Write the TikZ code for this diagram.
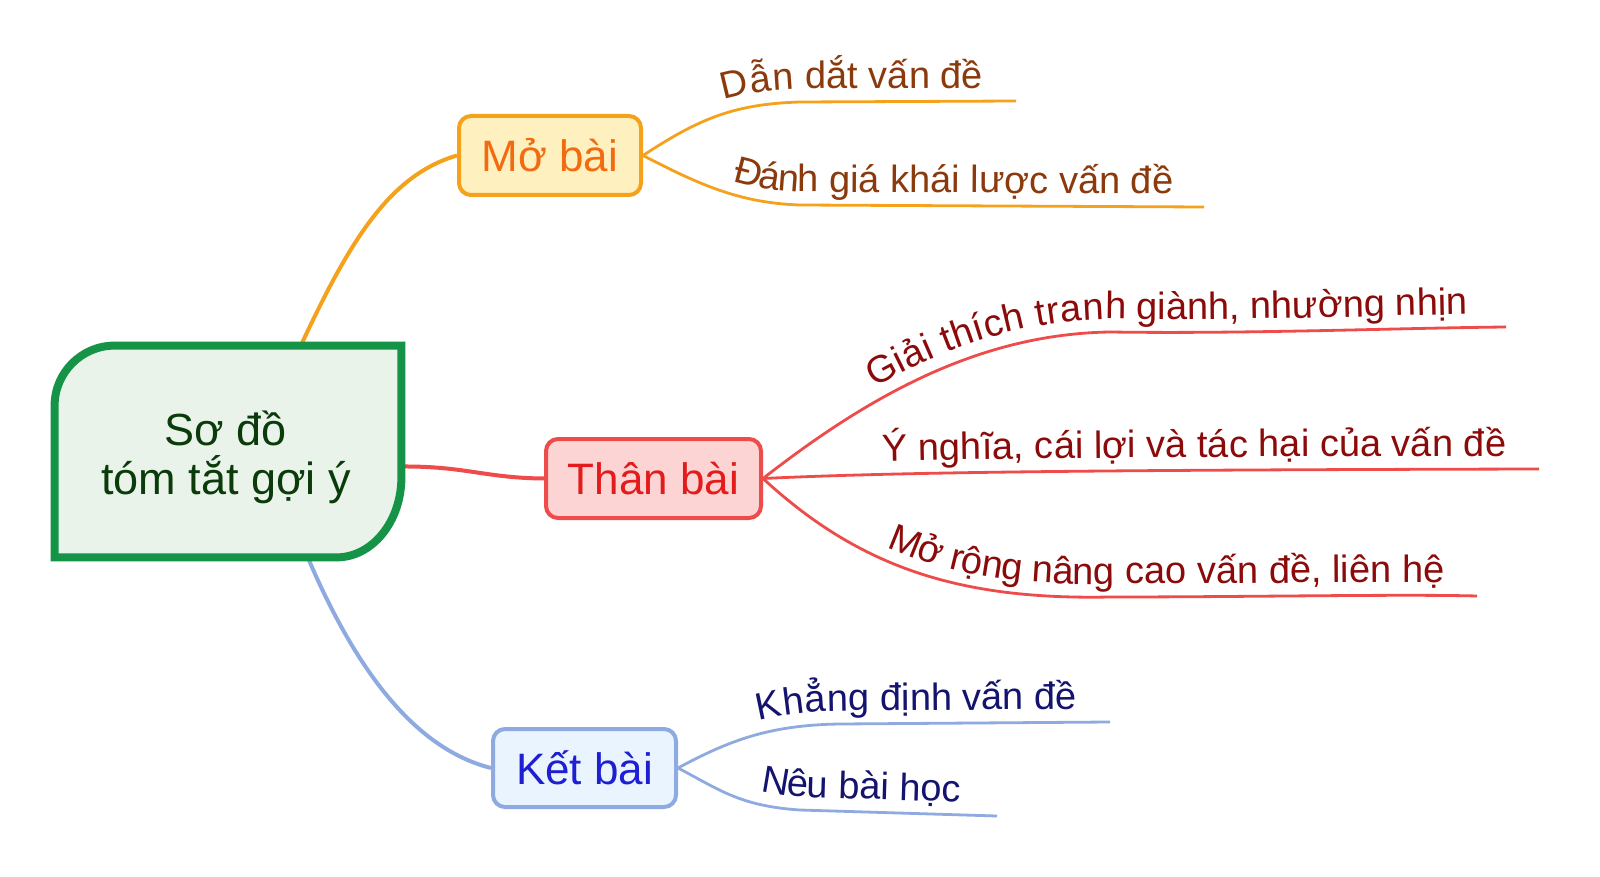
\documentclass[tikz,border=0pt]{standalone}
\usepackage{fontspec}
\setmainfont{Liberation Sans}
\usetikzlibrary{calc,decorations.text}
\pgfdeclarelayer{bg}
\pgfsetlayers{bg,main}
\definecolor{cgreen}{HTML}{159447}
\definecolor{cgreenfill}{HTML}{E9F3EA}
\definecolor{cgreentext}{HTML}{0B3B0B}
\definecolor{oline}{HTML}{F5A11C}
\definecolor{ofill}{HTML}{FFF1BF}
\definecolor{otext}{HTML}{F26B10}
\definecolor{osub}{HTML}{8A3A0C}
\definecolor{rline}{HTML}{EE4B4B}
\definecolor{rfill}{HTML}{FCD4D4}
\definecolor{rtext}{HTML}{E31B1B}
\definecolor{rsub}{HTML}{8B0A0A}
\definecolor{bline}{HTML}{8EAAE0}
\definecolor{bfill}{HTML}{EAF4FF}
\definecolor{btext}{HTML}{1E1ED2}
\definecolor{bsub}{HTML}{14146E}
\begin{document}
\begin{tikzpicture}[x=0.5pt,y=-0.5pt,
  topicbox/.style={rounded corners=6pt, line width=2pt, minimum height=39.5pt, inner sep=0pt, font=\fontsize{22}{26}\selectfont},
  mainlink/.style={line width=2pt},
  sublink/.style={line width=1.4pt},
  subtext/.style n args={3}{postaction={decorate, decoration={text along path, raise=6.5pt, text align={left indent=#1}, text={|\fontsize{19}{23}\selectfont\color{#2}|#3}}}}
]
\useasboundingbox (0,0) rectangle (1600,877);

% central topic
\node[draw=none, minimum width=173pt, minimum height=105.5pt, inner sep=0pt] (c) at (228,451.5) {};
\begin{pgfonlayer}{bg}
\fill[white] (0,0) rectangle (1600,877);
\end{pgfonlayer}
\filldraw[draw=cgreen, fill=cgreenfill, line width=4pt, line join=miter]
  (c.south west) -- ($(c.north west)+(0,60)$)
  .. controls ($(c.north west)+(0,27)$) and ($(c.north west)+(27,0)$) .. ($(c.north west)+(60,0)$)
  -- (c.north east) -- ($(c.south east)+(0,-80)$)
  .. controls ($(c.south east)+(0,-36)$) and ($(c.south east)+(-29,0)$) .. ($(c.south east)+(-65,0)$)
  -- cycle;
\node[align=center, text=cgreentext, font=\fontsize{22.5}{24.5}\selectfont] (ct) at ($(c)+(-2,6)$) {Sơ đồ\\tóm tắt gợi ý};

% main topics
\node[topicbox, draw=oline, fill=ofill, text=otext, minimum width=91pt] (mo) at (550,155.5) {Mở bài};
\node[topicbox, draw=rline, fill=rfill, text=rtext, minimum width=107.5pt] (th) at (653.5,478.5) {Thân bài};
\node[topicbox, draw=bline, fill=bfill, text=btext, minimum width=91.5pt, minimum height=39pt] (ke) at (584.5,768) {Kết bài};

% branch ends
\coordinate (e1) at (1016,101);
\coordinate (e2) at (1204,207);
\coordinate (e3) at (1506,327);
\coordinate (e4) at (1539,469);
\coordinate (e5) at (1477,596);
\coordinate (e6) at (1110,722);
\coordinate (e7) at (997,816);

\begin{pgfonlayer}{bg}
\draw[mainlink, oline] ($(c.north west)!0.71!(c.north east)$) .. controls (350,240) and (390,175) .. (mo.west);
\draw[mainlink, rline] ($(c.east)+(0,15)$) .. controls (465,466) and (485,478) .. (th.west);
\draw[mainlink, bline] ($(c.south west)!0.73!(c.south east)$) .. controls (360,680) and (420,750) .. (ke.west);

\draw[sublink, oline, subtext={47pt}{osub}{Dẫn dắt vấn đề}] (mo.east) .. controls (700,118) and (735,104) .. (800,102) -- (e1);
\draw[sublink, oline, subtext={47pt}{osub}{Đánh giá khái lược vấn đề}] (mo.east) .. controls (700,185) and (740,203) .. (800,205) -- (e2);

\draw[sublink, rline, subtext={71pt}{rsub}{Giải thích tranh giành, nhường nhịn}] (th.east) .. controls (870,395) and (980,334) .. (1110,332) .. controls (1250,334) and (1400,328) .. (e3);
\draw[sublink, rline, subtext={60pt}{rsub}{Ý nghĩa, cái lợi và tác hại của vấn đề}] (th.east) .. controls (900,472) and (1100,470) .. (e4);
\draw[sublink, rline, subtext={72pt}{rsub}{Mở rộng nâng cao vấn đề, liên hệ}] (th.east) .. controls (860,568) and (960,600) .. (1110,597) .. controls (1250,597) and (1400,594) .. (e5);

\draw[sublink, bline, subtext={45pt}{bsub}{Khẳng định vấn đề}] (ke.east) .. controls (730,740) and (770,725) .. (840,724) -- (e6);
\draw[sublink, bline, subtext={44pt}{bsub}{Nêu bài học}] (ke.east) .. controls (720,790) and (740,806) .. (800,810) -- (e7);
\end{pgfonlayer}
\end{tikzpicture}
\end{document}
